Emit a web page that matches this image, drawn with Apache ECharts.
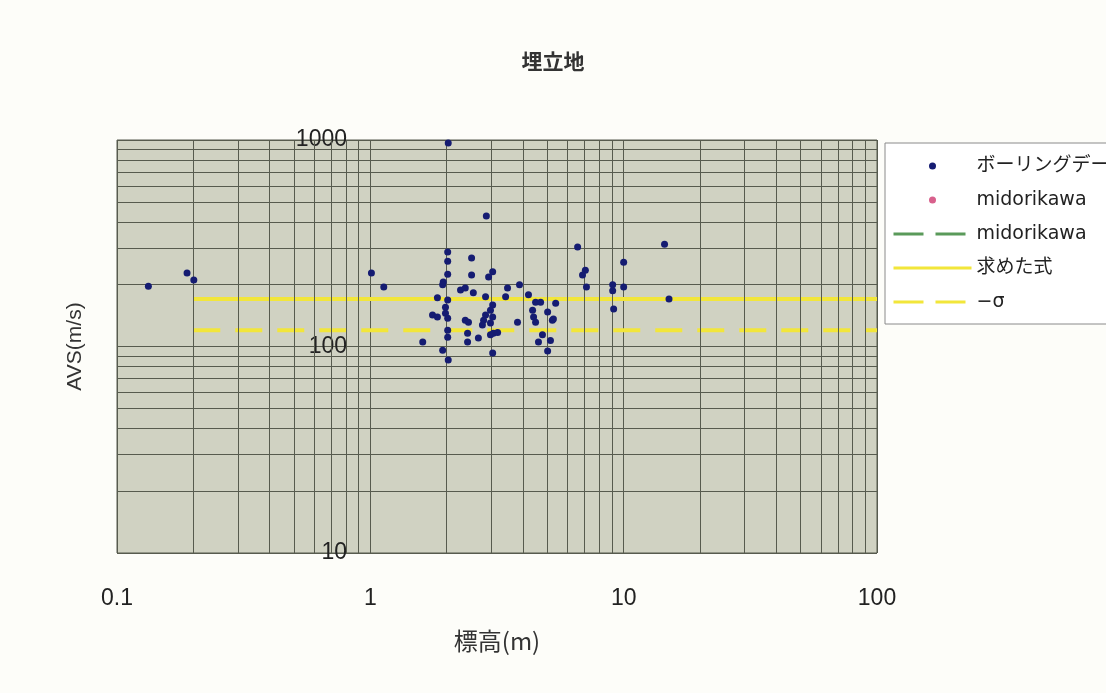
<!DOCTYPE html>
<html>
<head>
<meta charset="utf-8">
<script src="https://cdn.jsdelivr.net/npm/echarts@6/dist/echarts.min.js"></script>
<style>
html,body{margin:0;padding:0;background:#fdfdf9;}
#c{width:1106px;height:693px;}
</style>
</head>
<body>
<div id="c"></div>
<script>
// ---- data ----
const chartTitle = '埋立地';
const xTicks = [0.1, 1, 10, 100];
const yTicks = [10, 100, 1000];
const xMinorGrid = [0.2,0.3,0.4,0.5,0.6,0.7,0.8,0.9, 2,3,4,5,6,7,8,9, 20,30,40,50,60,70,80,90];
const yMinorGrid = [20,30,40,50,60,70,80,90, 200,300,400,500,600,700,800,900];

// ボーリングデータ : elevation (m) and AVS (m/s)
const boringHeight = [
  0.133, 0.189, 0.201, 1.01, 1.13, 1.61,
  2.03, 2.02, 2.02, 2.02, 1.94, 1.93, 1.84, 2.02, 1.98, 1.76, 1.84, 1.98, 2.02, 2.02, 2.02, 1.93, 2.03,
  2.51, 2.51, 2.27, 2.37, 2.55, 2.37, 2.44, 2.42, 2.42, 2.67,
  2.87, 3.04, 2.93, 2.85, 3.04, 2.98, 2.85, 3.04, 2.80, 2.98, 2.77, 3.06, 3.18, 3.04, 2.98,
  3.48, 3.42, 3.88, 3.81,
  4.21, 4.49, 4.70, 4.37, 5.01, 4.41, 4.49, 5.23, 5.39, 5.28, 4.78, 4.61, 5.14, 5.01,
  6.58, 7.06, 6.88, 7.13,
  9.05, 9.05, 10.0, 10.0, 9.13,
  14.5, 15.1
];
const boringAvs = [
  196, 227, 210, 227, 194, 105,
  967, 287, 259, 224, 205, 199, 172, 168, 155, 142, 139, 145, 137, 120, 111, 96, 86,
  268, 222, 188, 192, 182, 134, 131, 116, 105, 110,
  428, 230, 217, 174, 159, 150, 142, 139, 134, 130, 127, 116, 117, 93, 114,
  192, 174, 199, 131,
  178, 164, 164, 150, 147, 139, 131, 134, 162, 136, 114, 105, 107, 95,
  303, 234, 222, 194,
  199, 186, 194, 256, 152,
  313, 170
];
// 求めた式 and −σ
const fitHeight = [0.2, 100];
const fitAvs = [170, 170];
const sigmaAvs = [120, 120];
// midorikawa series (no points visible in this range)
const midoriPointHeight = [];
const midoriPointAvs = [];
const midoriLineHeight = [];
const midoriLineAvs = [];

const seriesNames = ['ボーリングデータ', 'midorikawa#1', 'midorikawa#2', '求めた式', '−σ'];

function pairs(xs, ys) { return xs.map((x, i) => [x, ys[i]]); }
function fmt(v) { return String(+Number(v).toPrecision(6)); }

const gridColor = '#575b4e';
const yellow = '#f2e63a';
const green = '#5a9a5a';
const navy = '#151c72';
const hiddenSymbol = {color: 'rgba(0,0,0,0)', opacity: 0, borderWidth: 0};

const chart = echarts.init(document.getElementById('c'), null, {renderer: 'canvas'});
chart.setOption({
  animation: false,
  backgroundColor: '#fdfdf9',
  title: {
    text: chartTitle,
    left: 'center',
    top: 46,
    textStyle: {fontFamily: "'Noto Sans CJK JP'", fontSize: 21, fontWeight: 'bold', color: '#333'}
  },
  grid: {
    left: 117, right: 229, top: 140, bottom: 140,
    show: true, backgroundColor: '#d0d2c2', borderColor: gridColor, borderWidth: 1
  },
  legend: {
    orient: 'vertical',
    left: 885, top: 143,
    data: [
      {name: seriesNames[0]},
      {name: seriesNames[1]},
      {name: seriesNames[2], itemStyle: hiddenSymbol, lineStyle: {color: green, width: 3, type: [30, 12]}},
      {name: seriesNames[3], itemStyle: hiddenSymbol, lineStyle: {color: yellow, width: 3, type: 'solid'}},
      {name: seriesNames[4], itemStyle: hiddenSymbol, lineStyle: {color: yellow, width: 3, type: [30, 12]}}
    ],
    formatter: name => name.replace(/#\d$/, ''),
    itemWidth: 78, itemHeight: 7, itemGap: 14,
    padding: [13, 10, 12, 7],
    backgroundColor: '#ffffff',
    borderColor: '#8a8a8a', borderWidth: 1,
    textStyle: {fontFamily: "'DejaVu Sans','Noto Sans CJK JP'", fontSize: 19, lineHeight: 20, color: '#222'}
  },
  xAxis: {
    type: 'log', logBase: 10,
    min: xTicks[0], max: xTicks[xTicks.length - 1],
    splitNumber: xTicks.length - 1,
    name: '標高(m)', nameLocation: 'middle', nameGap: 76,
    nameTextStyle: {fontFamily: "'Noto Sans CJK JP'", fontSize: 24, color: '#333'},
    axisLine: {show: false}, axisTick: {show: false},
    axisLabel: {margin: 34, formatter: fmt, showMinLabel: true, showMaxLabel: true,
      fontFamily: "'Liberation Sans'", fontSize: 23, color: '#222'},
    splitLine: {show: true, lineStyle: {color: gridColor, width: 1}}
  },
  yAxis: {
    type: 'log', logBase: 10,
    min: yTicks[0], max: yTicks[yTicks.length - 1],
    splitNumber: yTicks.length - 1,
    position: 'left', offset: -235,
    name: 'AVS(m/s)', nameLocation: 'middle', nameGap: 266, nameRotate: 90,
    nameTextStyle: {fontFamily: "'Liberation Sans'", fontSize: 21, color: '#333'},
    axisLine: {show: false}, axisTick: {show: false},
    axisLabel: {margin: 5, formatter: fmt, showMinLabel: true, showMaxLabel: true,
      padding: [8, 0, 0, 0],
      fontFamily: "'Liberation Sans'", fontSize: 23, color: '#222'},
    splitLine: {show: true, lineStyle: {color: gridColor, width: 1}}
  },
  series: [
    {
      name: 'gridHelper', type: 'line', data: [], z: 1, silent: true,
      markLine: {
        silent: true, symbol: ['none', 'none'], label: {show: false},
        lineStyle: {color: gridColor, width: 1, type: 'solid'},
        emphasis: {disabled: true},
        data: xMinorGrid.map(v => ({xAxis: v})).concat(yMinorGrid.map(v => ({yAxis: v})))
      }
    },
    {
      name: seriesNames[3], type: 'line', data: pairs(fitHeight, fitAvs), z: 3,
      symbol: 'none', lineStyle: {color: yellow, width: 4, type: 'solid'},
      itemStyle: {color: yellow}
    },
    {
      name: seriesNames[4], type: 'line', data: pairs(fitHeight, sigmaAvs), z: 3,
      symbol: 'none', lineStyle: {color: yellow, width: 4, type: [27, 15]},
      itemStyle: {color: yellow}
    },
    {
      name: seriesNames[2], type: 'line', data: pairs(midoriLineHeight, midoriLineAvs), z: 3,
      symbol: 'none', lineStyle: {color: green, width: 4, type: [30, 12]},
      itemStyle: {color: green}
    },
    {
      name: seriesNames[1], type: 'scatter', data: pairs(midoriPointHeight, midoriPointAvs), z: 4,
      symbol: 'circle', symbolSize: 5, itemStyle: {color: '#d8608c', opacity: 1}
    },
    {
      name: seriesNames[0], type: 'scatter', data: pairs(boringHeight, boringAvs), z: 5,
      symbol: 'circle', symbolSize: 7, itemStyle: {color: navy, opacity: 1}
    }
  ]
});
</script>
</body>
</html>
